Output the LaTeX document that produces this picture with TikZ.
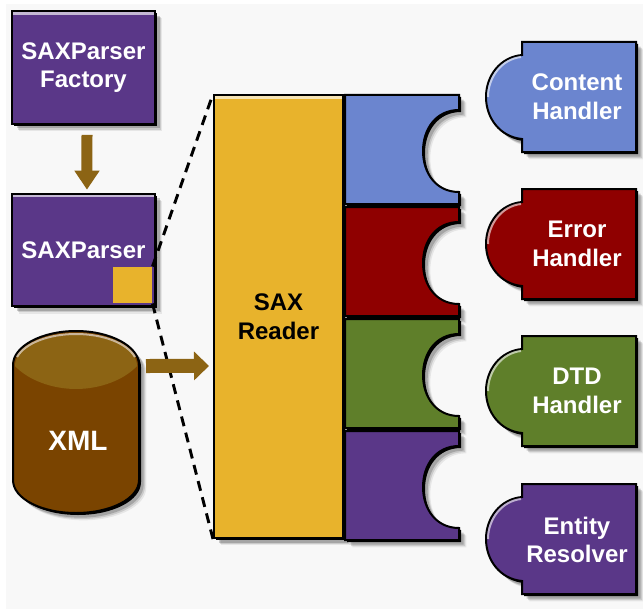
\documentclass[tikz,border=0pt]{standalone}
\usepackage{fontspec}
\setmainfont{Liberation Sans}
\usetikzlibrary{arrows.meta,shadows}

\definecolor{saxpurple}{HTML}{5A3788}
\definecolor{saxblue}{HTML}{6B85CF}
\definecolor{saxred}{HTML}{8F0000}
\definecolor{saxgreen}{HTML}{5F7F2A}
\definecolor{saxgold}{HTML}{E8B32C}
\definecolor{saxbrown}{HTML}{8C6414}
\definecolor{saxbody}{HTML}{7A4400}
\definecolor{saxback}{HTML}{F8F8F8}

\tikzset{every picture/.style={line width=0.75pt},
	softshadow/.style={
		general shadow={shadow xshift=5.5pt,shadow yshift=-5.5pt,fill=black,opacity=0.07},
		general shadow={shadow xshift=4.5pt,shadow yshift=-4.5pt,fill=black,opacity=0.12},
		general shadow={shadow xshift=3.5pt,shadow yshift=-3.5pt,fill=black,opacity=0.18},
		general shadow={shadow xshift=1.5pt,shadow yshift=-1.5pt,fill=black,opacity=1}},
	toplight/.style={path picture={\fill[white,opacity=0.65] (path picture bounding box.north west) rectangle ([yshift=-2.75pt]path picture bounding box.north east);}},
	saxshape/.style={draw=black,line width=1.5pt,softshadow,toplight},
	saxbox/.style={saxshape,rectangle,inner sep=0pt,minimum width=107.25pt,minimum height=84.5pt,fill=saxpurple},
	saxtext/.style={inner sep=0pt,align=center,text=white,font=\fontsize{18}{21.5}\selectfont\bfseries},
	saxlight/.style={draw=white,opacity=0.6,line width=1.5pt},
	saxarrow/.style={draw=saxbrown,line width=8.25pt,-{Triangle[width=18pt,length=14.25pt]}},
	saxarrowwide/.style={draw=saxbrown,line width=10.5pt,-{Triangle[width=21pt,length=11.25pt]}},
	saxdash/.style={draw=black,line width=2.2pt,dash pattern=on 7.5pt off 5pt}
}

\begin{document}
\begin{tikzpicture}[x=0.75pt,y=0.75pt,yscale=-1,xscale=1]
	\useasboundingbox (0,0) rectangle (643,610);
	%Shape: Background
	\fill [saxback] (6,4) rectangle (643,609);

	% Reader and parser boxes
	\node [saxshape,rectangle,inner sep=0pt,minimum width=96.75pt,minimum height=332.25pt,fill=saxgold,text=black,align=center,font=\fontsize{18}{21.5}\selectfont\bfseries] (reader) at (278.5,316.5) {SAX\\Reader};
	\node [saxbox,saxtext] (factory) at (83.5,67.5) {SAXParser\\Factory};
	\node [saxbox,saxtext] (parser) at (83.5,250) {SAXParser};
	\node [rectangle,fill=saxgold,inner sep=0pt,minimum width=29.25pt,minimum height=27pt] (parserport) at (132.5,285) {};

	% Dashed lines
	\draw [saxdash] (parserport.north east) -- (reader.north west);
	\draw [saxdash] (parserport.south east) -- (reader.south west);

	%Shape: Can
	\path [saxshape,fill=saxbody] (13,365) .. controls (13,346) and (42,331) .. (76,331) .. controls (110,331) and (139,346) .. (139,365) -- (139,480) .. controls (139,499) and (110,513) .. (76,513) .. controls (42,513) and (13,499) .. (13,480) -- cycle;
	\fill [saxbrown] (15,366) .. controls (15,348) and (43,335) .. (76,335) .. controls (109,335) and (137,348) .. (137,366) .. controls (124,380) and (100,389) .. (76,389) .. controls (52,389) and (28,380) .. (15,366) -- cycle;
	\draw [saxlight] (17,357) .. controls (25,343) and (49,334) .. (76,334) .. controls (103,334) and (127,343) .. (135,357);
	% Text Node
	\node [saxtext,font=\fontsize{21}{25}\selectfont\bfseries] (xml) at (78,441) {XML};

	% Arrows
	\draw [saxarrow,shorten >=2.25pt] (factory.south) ++(3.5,10) coordinate (factoryout) -- ([xshift=2.6pt]parser.north);
	\draw [saxarrowwide] (146,366) coordinate (xmlout) -- ([xshift=-3pt,yshift=37.1pt]reader.west);

	%Shape: Blue piece
	\path [saxshape,fill=saxblue] (345,95) -- (459,95) -- (459,110) .. controls (436,110) and (423,129) .. (423,151) .. controls (423,173) and (436,192) .. (459,192) -- (459,204) -- (345,204) -- cycle;
	%Shape: Red piece
	\path [saxshape,fill=saxred] (345,207) -- (459,207) -- (459,222) .. controls (436,222) and (423,241) .. (423,263) .. controls (423,285) and (436,304) .. (459,304) -- (459,316) -- (345,316) -- cycle;
	%Shape: Green piece
	\path [saxshape,fill=saxgreen] (345,319) -- (459,319) -- (459,334) .. controls (436,334) and (423,353) .. (423,375) .. controls (423,397) and (436,416) .. (459,416) -- (459,428) -- (345,428) -- cycle;
	%Shape: Purple piece
	\path [saxshape,fill=saxpurple] (345,431) -- (459,431) -- (459,446) .. controls (436,446) and (423,465) .. (423,487) .. controls (423,509) and (436,528) .. (459,528) -- (459,540) -- (345,540) -- cycle;

	%Shape: Content handler
	\path [saxshape,fill=saxblue] (522,42) -- (636,42) -- (636,152) -- (522,152) -- (522,139) .. controls (500,137) and (486,118) .. (486,97) .. controls (486,76) and (500,57) .. (522,55) -- cycle;
	\draw [saxlight] (521,57) .. controls (502,59) and (488,77) .. (488,97);
	%Shape: Error handler
	\path [saxshape,fill=saxred] (522,189) -- (636,189) -- (636,299) -- (522,299) -- (522,286) .. controls (500,284) and (486,265) .. (486,244) .. controls (486,223) and (500,204) .. (522,202) -- cycle;
	\draw [saxlight] (521,204) .. controls (502,206) and (488,224) .. (488,244);
	%Shape: DTD handler
	\path [saxshape,fill=saxgreen] (522,336) -- (636,336) -- (636,446) -- (522,446) -- (522,433) .. controls (500,431) and (486,412) .. (486,391) .. controls (486,370) and (500,351) .. (522,349) -- cycle;
	\draw [saxlight] (521,351) .. controls (502,353) and (488,371) .. (488,391);
	%Shape: Entity resolver
	\path [saxshape,fill=saxpurple] (522,484) -- (636,484) -- (636,594) -- (522,594) -- (522,581) .. controls (500,579) and (486,560) .. (486,539) .. controls (486,518) and (500,499) .. (522,497) -- cycle;
	\draw [saxlight] (521,499) .. controls (502,501) and (488,519) .. (488,539);

	% Text Node
	\node [saxtext] (contenthandler) at (577,97) {Content\\Handler};
	% Text Node
	\node [saxtext] (errorhandler) at (577,244) {Error\\Handler};
	% Text Node
	\node [saxtext] (dtdhandler) at (577,391) {DTD\\Handler};
	% Text Node
	\node [saxtext] (entityresolver) at (577,540) {Entity\\Resolver};
\end{tikzpicture}
\end{document}
